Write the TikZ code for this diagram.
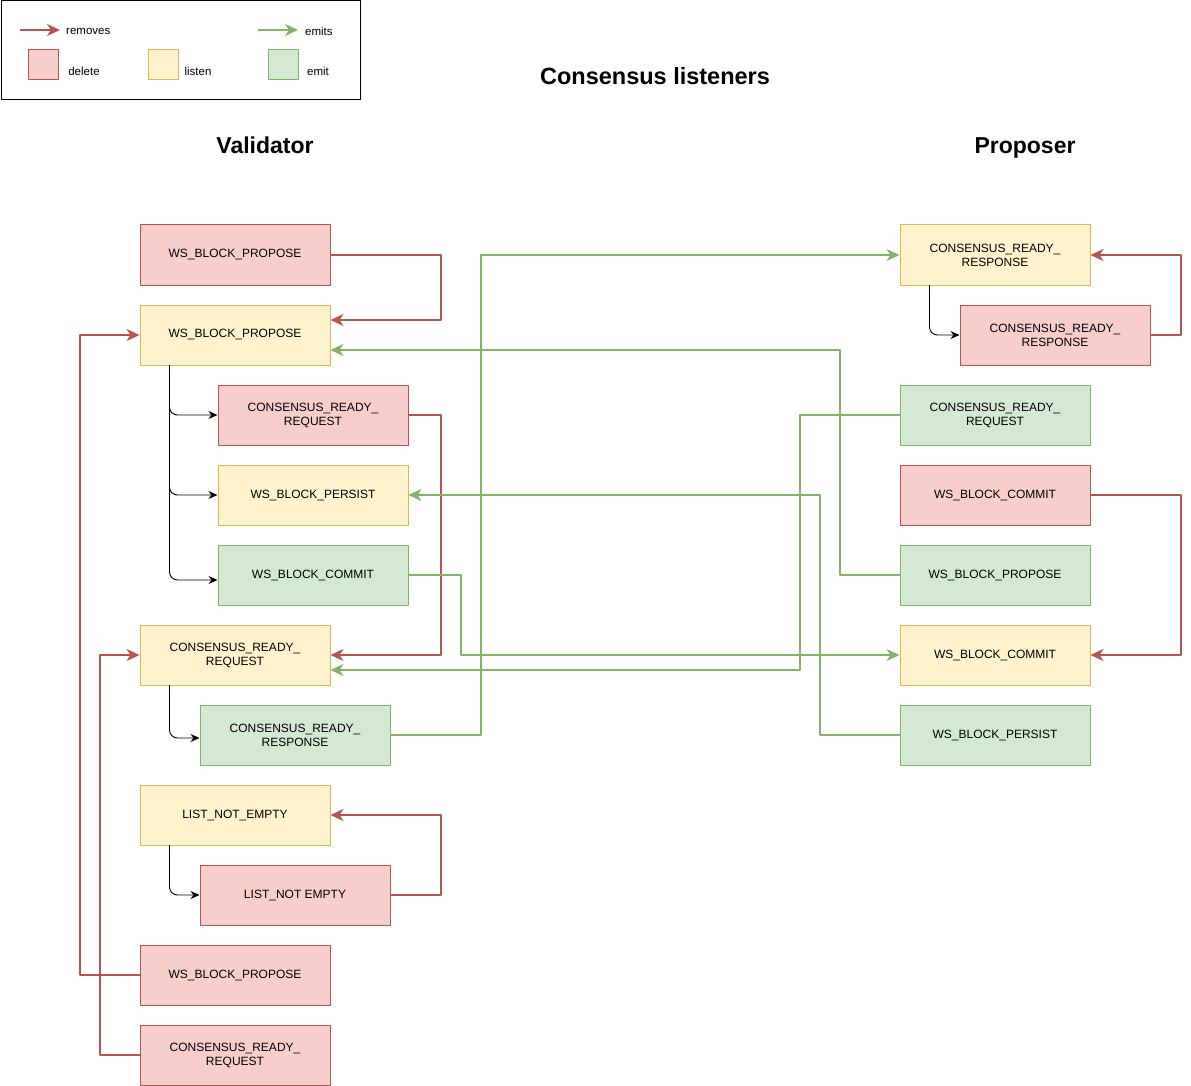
\documentclass[tikz,border=0pt]{standalone}
\usepackage{fontspec}
\setmainfont{Liberation Sans}
\usepackage{tikz}
\usetikzlibrary{arrows.meta}
\definecolor{delfill}{HTML}{F8CECC}
\definecolor{delline}{HTML}{B85450}
\definecolor{lisfill}{HTML}{FFF2CC}
\definecolor{lisline}{HTML}{D6B656}
\definecolor{emifill}{HTML}{D5E8D4}
\definecolor{emiline}{HTML}{82B366}

\begin{document}
\begin{tikzpicture}[line cap=round,line join=round,x=1pt,y=-1pt,
  box/.style={rectangle,minimum width=190pt,minimum height=60pt,inner sep=0pt,line width=1pt,align=center,font=\fontsize{12}{14}\selectfont},
  delbox/.style={box,draw=delline,fill=delfill},
  lisbox/.style={box,draw=lisline,fill=lisfill},
  emibox/.style={box,draw=emiline,fill=emifill},
  legsq/.style={rectangle,minimum size=30pt,inner sep=0pt,line width=1pt},
  legtxt/.style={inner sep=0pt,font=\fontsize{11.5}{13}\selectfont},
  rem/.style={-{Stealth[length=13pt,width=12pt,inset=4pt]},draw=delline,line width=2pt,line cap=butt},
  emt/.style={-{Stealth[length=13pt,width=12pt,inset=4pt]},draw=emiline,line width=2pt,line cap=butt},
  lnk/.style={-{Stealth[length=9pt,width=8pt,inset=3pt]},black,line width=0.9pt,rounded corners=8pt}]
\useasboundingbox (0,0) rectangle (1191,1086);
\draw [line width=1.pt] (1.,1.) rectangle (360.,100.);
\coordinate (ra) at (20,30);
\coordinate (rb) at (60,30);
\coordinate (ea) at (258,30);
\coordinate (eb) at (298,30);
\draw [rem] (ra) -- (rb);
\draw [emt] (ea) -- (eb);
\node[legtxt,anchor=west] (tr) at (66,31) {removes};
\node[legtxt,anchor=west] (te) at (305,31) {emits};
\node[legsq,draw=delline,fill=delfill] (sd) at (43,65) {};
\node[legsq,draw=lisline,fill=lisfill] (sl) at (163,65) {};
\node[legsq,draw=emiline,fill=emifill] (se) at (283,65) {};
\node[legtxt] (td) at (84,71) {delete};
\node[legtxt] (tl) at (198,71) {listen};
\node[legtxt] (tm) at (318,71) {emit};

\node[font=\fontsize{23.5}{27}\selectfont\bfseries] (title) at (655,76) {Consensus listeners};
\node[font=\fontsize{23}{27}\selectfont\bfseries,anchor=base] (val) at (265,154) {Validator};
\node[font=\fontsize{23}{27}\selectfont\bfseries,anchor=base] (pro) at (1025,154) {Proposer};

\node[delbox] (V1) at (235,255) {WS\_BLOCK\_PROPOSE};
\node[lisbox] (V2) at (235,335) {WS\_BLOCK\_PROPOSE};
\node[delbox] (V3) at (313,415) {CONSENSUS\_READY\_\\REQUEST};
\node[lisbox] (V4) at (313,495) {WS\_BLOCK\_PERSIST};
\node[emibox] (V5) at (313,575) {WS\_BLOCK\_COMMIT};
\node[lisbox] (V6) at (235,655) {CONSENSUS\_READY\_\\REQUEST};
\node[emibox] (V7) at (295,735) {CONSENSUS\_READY\_\\RESPONSE};
\node[lisbox] (V8) at (235,815) {LIST\_NOT\_EMPTY};
\node[delbox] (V9) at (295,895) {LIST\_NOT EMPTY};
\node[delbox] (V10) at (235,975) {WS\_BLOCK\_PROPOSE};
\node[delbox] (V11) at (235,1055) {CONSENSUS\_READY\_\\REQUEST};

\node[lisbox] (P1) at (995,255) {CONSENSUS\_READY\_\\RESPONSE};
\node[delbox] (P2) at (1055,335) {CONSENSUS\_READY\_\\RESPONSE};
\node[emibox] (P3) at (995,415) {CONSENSUS\_READY\_\\REQUEST};
\node[delbox] (P4) at (995,495) {WS\_BLOCK\_COMMIT};
\node[emibox] (P5) at (995,575) {WS\_BLOCK\_PROPOSE};
\node[lisbox] (P6) at (995,655) {WS\_BLOCK\_COMMIT};
\node[emibox] (P7) at (995,735) {WS\_BLOCK\_PERSIST};

\draw [lnk] ([xshift=30pt]V2.south west) |- (V3.west);
\draw [lnk] ([xshift=30pt]V2.south west) |- (V4.west);
\draw [lnk] ([xshift=30pt]V2.south west) |- ([yshift=-5pt]V5.west);
\draw [lnk] ([xshift=30pt]V6.south west) |- ([yshift=-3pt]V7.west);
\draw [lnk] ([xshift=30pt]V8.south west) |- (V9.west);
\draw [lnk] ([xshift=30pt]P1.south west) |- (P2.west);

\draw [rem] (V1.east) -- ++(110,0) |- ([yshift=15pt]V2.east);
\draw [rem] (V3.east) -- ++(32,0) |- (V6.east);
\draw [rem] (V9.east) -- ++(50,0) |- (V8.east);
\draw [rem] (V10.west) -- ++(-60,0) |- (V2.west);
\draw [rem] (V11.west) -- ++(-40,0) |- (V6.west);
\draw [rem] (P2.east) -- ++(30,0) |- (P1.east);
\draw [rem] (P4.east) -- ++(90,0) |- (P6.east);

\draw [emt] (V7.east) -- ++(90,0) |- (P1.west);
\draw [emt] (P5.west) -- ++(-60,0) |- ([yshift=-15pt]V2.east);
\draw [emt] (P3.west) -- ++(-100,0) |- ([yshift=-15pt]V6.east);
\draw [emt] (P7.west) -- ++(-80,0) |- (V4.east);
\draw [emt] (V5.east) -- ++(52,0) |- (P6.west);
\end{tikzpicture}
\end{document}
